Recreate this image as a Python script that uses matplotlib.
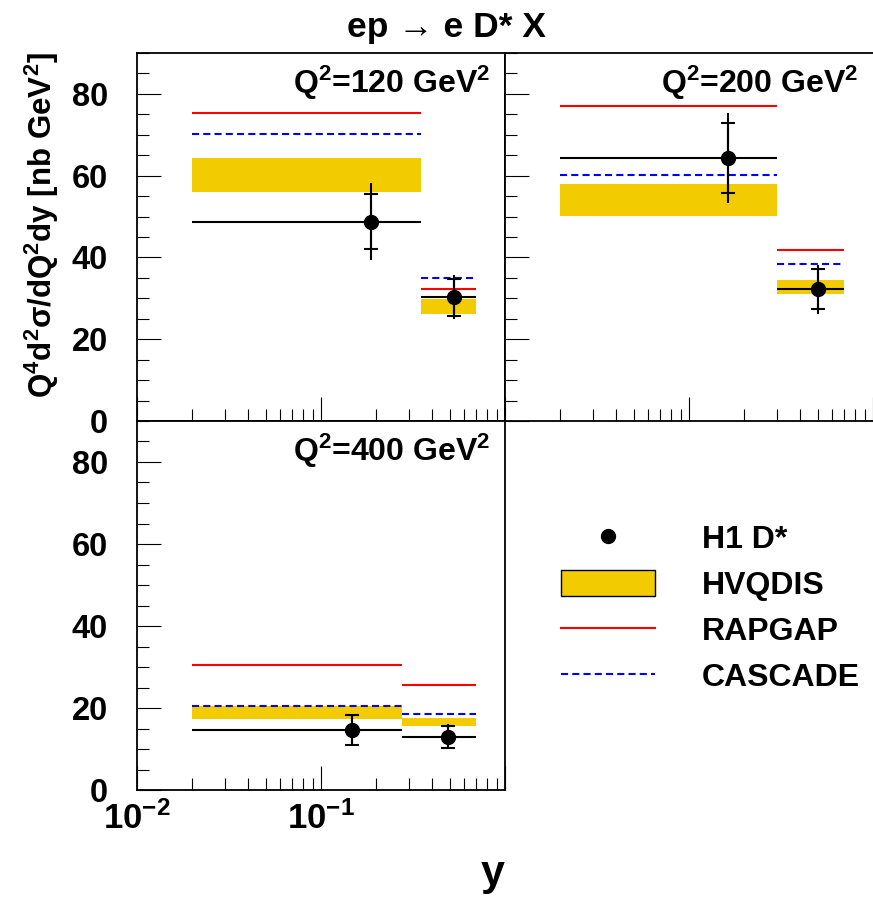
import numpy as np
import matplotlib
matplotlib.use('Agg')
import matplotlib.pyplot as plt
from matplotlib.lines import Line2D
from matplotlib.patches import Patch
from matplotlib.ticker import MultipleLocator, LogLocator, NullFormatter

plt.rcParams['font.family'] = ['Liberation Sans', 'DejaVu Sans']
plt.rcParams['font.weight'] = 'bold'
plt.rcParams['mathtext.fontset'] = 'custom'
plt.rcParams['mathtext.rm'] = 'Liberation Sans:bold'
plt.rcParams['mathtext.it'] = 'Liberation Sans:bold'
plt.rcParams['mathtext.bf'] = 'Liberation Sans:bold'
plt.rcParams['mathtext.sf'] = 'Liberation Sans:bold'

# values, one row per Q^2 panel
q2_labels = ['120', '200', '400']
bin_lo = [[0.02, 0.35], [0.02, 0.30], [0.02, 0.275]]
bin_hi = [[0.35, 0.70], [0.30, 0.70], [0.275, 0.70]]
y_pts = [[0.186, 0.528], [0.162, 0.50], [0.148, 0.49]]
h1 = [[48.7, 30.3], [64.3, 32.2], [14.7, 13.0]]
h1_stat = [[6.7, 4.5], [8.6, 4.9], [3.7, 2.7]]
h1_tot = [[9.4, 5.4], [11.1, 6.0], [3.9, 3.0]]
hvq_lo = [[56.0, 26.1], [50.1, 31.0], [17.2, 15.7]]
hvq_hi = [[64.3, 29.9], [57.9, 34.6], [20.4, 17.5]]
rapgap = [[75.4, 32.2], [77.0, 41.7], [30.6, 25.7]]
cascade = [[70.1, 35.0], [60.1, 38.5], [20.6, 18.5]]

gold = '#f2cc00'
dash = (0, (3.4, 2.0))

W, H = 873, 899
fig = plt.figure(figsize=(W / 100, H / 100), dpi=100)

def px_axes(x0, y0, x1, y1):
    # pixel box (top-left origin) -> figure fraction
    return fig.add_axes([x0 / W, 1 - y1 / H, (x1 - x0) / W, (y1 - y0) / H])

ax1 = px_axes(137, 53, 505, 421)
ax2 = px_axes(505, 53, 873, 421)
ax3 = px_axes(137, 421, 505, 790)
axes = [ax1, ax2, ax3]

for i, ax in enumerate(axes):
    for j in range(2):
        ax.fill_between([bin_lo[i][j], bin_hi[i][j]], hvq_lo[i][j], hvq_hi[i][j],
                        color=gold, lw=0)
    ax.hlines(rapgap[i], bin_lo[i], bin_hi[i], color='red', lw=1.5)
    ax.hlines(cascade[i], bin_lo[i], bin_hi[i], color='blue', lw=1.5, linestyles=[dash])
    ax.hlines(h1[i], bin_lo[i], bin_hi[i], color='black', lw=1.5)
    ax.errorbar(y_pts[i], h1[i], yerr=h1_tot[i], fmt='none', ecolor='black', elinewidth=1.5)
    ax.errorbar(y_pts[i], h1[i], yerr=h1_stat[i], fmt='o', color='black', ms=10,
                elinewidth=1.5, capsize=5, capthick=1.5)

    ax.set_xscale('log')
    ax.set_xlim(0.01, 1)
    ax.set_ylim(0, 90)
    ax.yaxis.set_major_locator(MultipleLocator(20))
    ax.yaxis.set_minor_locator(MultipleLocator(5))
    ax.set_xticks([0.01, 0.1, 1], labels=['$10^{-2}$', '$10^{-1}$', ''])
    ax.xaxis.set_minor_locator(LogLocator(base=10, subs=np.arange(2, 10)))
    ax.xaxis.set_minor_formatter(NullFormatter())
    ax.tick_params(which='both', direction='in', top=False, right=False, width=0.8)
    ax.tick_params(which='major', length=17)
    ax.tick_params(which='minor', length=8.5)
    ax.tick_params(axis='y', pad=21, labelsize=23.5)
    ax.tick_params(axis='x', pad=8, labelsize=25)
    for s in ax.spines.values():
        s.set_linewidth(1.3)
    ax.text(1 - 15 / 368, 1 - 40 / 368, 'Q$^2$=' + q2_labels[i] + ' GeV$^2$',
            transform=ax.transAxes, ha='right', va='baseline', fontsize=23)

ax1.tick_params(axis='x', labelbottom=False)
ax2.tick_params(labelbottom=False, labelleft=False)
ax2.spines['right'].set_visible(False)

handles = [Line2D([], [], marker='o', ls='none', color='black', ms=10),
           Patch(facecolor=gold, edgecolor='black', lw=1.0),
           Line2D([], [], color='red', lw=1.5),
           Line2D([], [], color='blue', lw=1.5, ls=dash)]
labels = ['H1 D*', 'HVQDIS', 'RAPGAP', 'CASCADE']
fig.legend(handles, labels, loc='upper left', bbox_to_anchor=(561 / W, 1 - 524 / H),
           frameon=False, fontsize=23, handlelength=2.95, handleheight=0.87,
           handletextpad=1.45, labelspacing=0.47, borderaxespad=0, borderpad=0,
           numpoints=1)

fig.text(447 / W, 1 - 37 / H, 'ep → e D* X', ha='center', va='baseline', fontsize=25.5)
fig.text(42 / W, 1 - 52 / H, 'Q$^4$d$^2$σ/dQ$^2$dy [nb GeV$^2$]', rotation=90,
         ha='center', va='top', fontsize=22.5)
fig.text(493 / W, 1 - 885 / H, 'y', ha='center', va='baseline', fontsize=31)

fig.savefig('out.png', dpi=100)
